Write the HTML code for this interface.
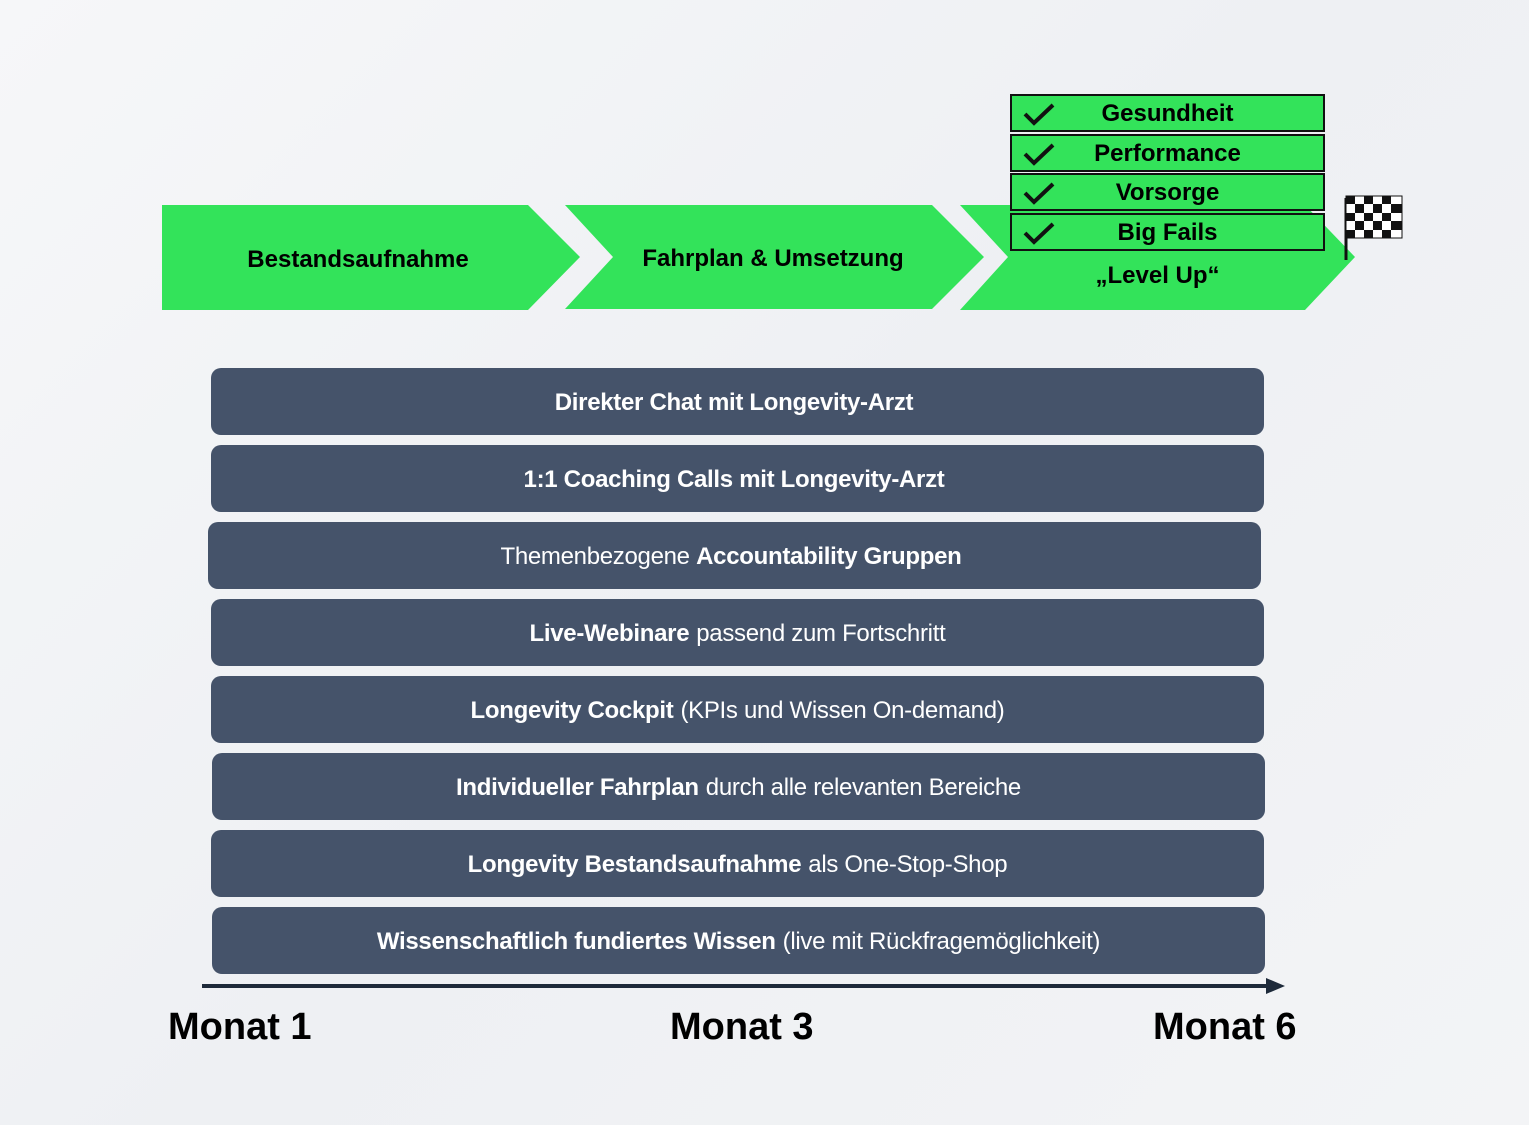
<!DOCTYPE html>
<html><head><meta charset="utf-8"><style>
body{margin:0;width:1529px;height:1125px;background:linear-gradient(135deg,#f6f7f9,#eef0f3 50%,#f3f4f6);font-family:"Liberation Sans",sans-serif;position:relative;overflow:hidden}
.bar{position:absolute;height:67px;background:#45536a;border-radius:10px;color:#fff;font-size:24px;display:flex;align-items:center;justify-content:center;letter-spacing:-0.3px;padding-top:3px;box-sizing:border-box}
.bar b{margin-right:7px}
.box{position:absolute;left:1010px;width:311px;height:34px;background:#33e35a;border:2px solid #111;font-weight:bold;font-size:24px;text-align:center;line-height:36px}
.box svg{position:absolute;left:10px;top:6px}
.lbl{position:absolute;font-weight:bold;font-size:38px;top:1006px;color:#000}
.t{position:absolute;font-weight:bold;font-size:24px;color:#000}
</style></head><body>
<svg width="1529" height="1125" style="position:absolute;left:0;top:0">
<polygon points="162,205 528,205 580,257 528,310 162,310" fill="#33e35a"/>
<polygon points="565,205 932,205 984,257 932,309 565,309 613,257" fill="#33e35a"/>
<polygon points="960,205 1305,205 1355,257 1305,310 960,310 1008,257" fill="#33e35a"/>
<line x1="202" y1="986" x2="1270" y2="986" stroke="#1e2a3a" stroke-width="4"/>
<polygon points="1266,978 1285,986 1266,994" fill="#1e2a3a"/>
<line x1="1346" y1="198" x2="1346" y2="260" stroke="#111" stroke-width="3"/>
<g>
<rect x="1346" y="196" width="56" height="42" fill="#fff" stroke="#111" stroke-width="1"/>
<g fill="#111">
<rect x="1346" y="196" width="9" height="8"/><rect x="1364" y="196" width="9" height="8"/><rect x="1382" y="196" width="9" height="8"/>
<rect x="1355" y="204" width="9" height="9"/><rect x="1373" y="204" width="9" height="9"/><rect x="1391" y="204" width="11" height="9"/>
<rect x="1346" y="213" width="9" height="8"/><rect x="1364" y="213" width="9" height="8"/><rect x="1382" y="213" width="9" height="8"/>
<rect x="1355" y="221" width="9" height="9"/><rect x="1373" y="221" width="9" height="9"/><rect x="1391" y="221" width="11" height="9"/>
<rect x="1346" y="230" width="9" height="8"/><rect x="1364" y="230" width="9" height="8"/><rect x="1382" y="230" width="9" height="8"/>
</g></g>
</svg>
<div class="t" style="left:162px;width:392px;top:246px;text-align:center">Bestandsaufnahme</div>
<div class="t" style="left:600px;width:346px;top:245px;text-align:center">Fahrplan &amp; Umsetzung</div>
<div class="t" style="left:1010px;width:295px;top:262px;text-align:center">„Level Up“</div>
<div class="box" style="top:94px"><svg width="34" height="24"><polyline points="3,12 12,21 31,3" fill="none" stroke="#111" stroke-width="4"/></svg>Gesundheit</div>
<div class="box" style="top:134px"><svg width="34" height="24"><polyline points="3,12 12,21 31,3" fill="none" stroke="#111" stroke-width="4"/></svg>Performance</div>
<div class="box" style="top:173px"><svg width="34" height="24"><polyline points="3,12 12,21 31,3" fill="none" stroke="#111" stroke-width="4"/></svg>Vorsorge</div>
<div class="box" style="top:213px"><svg width="34" height="24"><polyline points="3,12 12,21 31,3" fill="none" stroke="#111" stroke-width="4"/></svg>Big Fails</div>
<div class="bar" style="left:211px;width:1053px;top:368px"><b>Direkter Chat mit Longevity-Arzt</b></div>
<div class="bar" style="left:211px;width:1053px;top:445px"><b>1:1 Coaching Calls mit Longevity-Arzt</b></div>
<div class="bar" style="left:208px;width:1053px;top:522px">Themenbezogene&nbsp;<b>Accountability Gruppen</b></div>
<div class="bar" style="left:211px;width:1053px;top:599px"><b>Live-Webinare</b>passend zum Fortschritt</div>
<div class="bar" style="left:211px;width:1053px;top:676px"><b>Longevity Cockpit</b>(KPIs und Wissen On-demand)</div>
<div class="bar" style="left:212px;width:1053px;top:753px"><b>Individueller Fahrplan</b>durch alle relevanten Bereiche</div>
<div class="bar" style="left:211px;width:1053px;top:830px"><b>Longevity Bestandsaufnahme</b>als One-Stop-Shop</div>
<div class="bar" style="left:212px;width:1053px;top:907px"><b>Wissenschaftlich fundiertes Wissen</b>(live mit Rückfragemöglichkeit)</div>
<div class="lbl" style="left:168px">Monat 1</div>
<div class="lbl" style="left:670px">Monat 3</div>
<div class="lbl" style="left:1153px">Monat 6</div>
</body></html>
